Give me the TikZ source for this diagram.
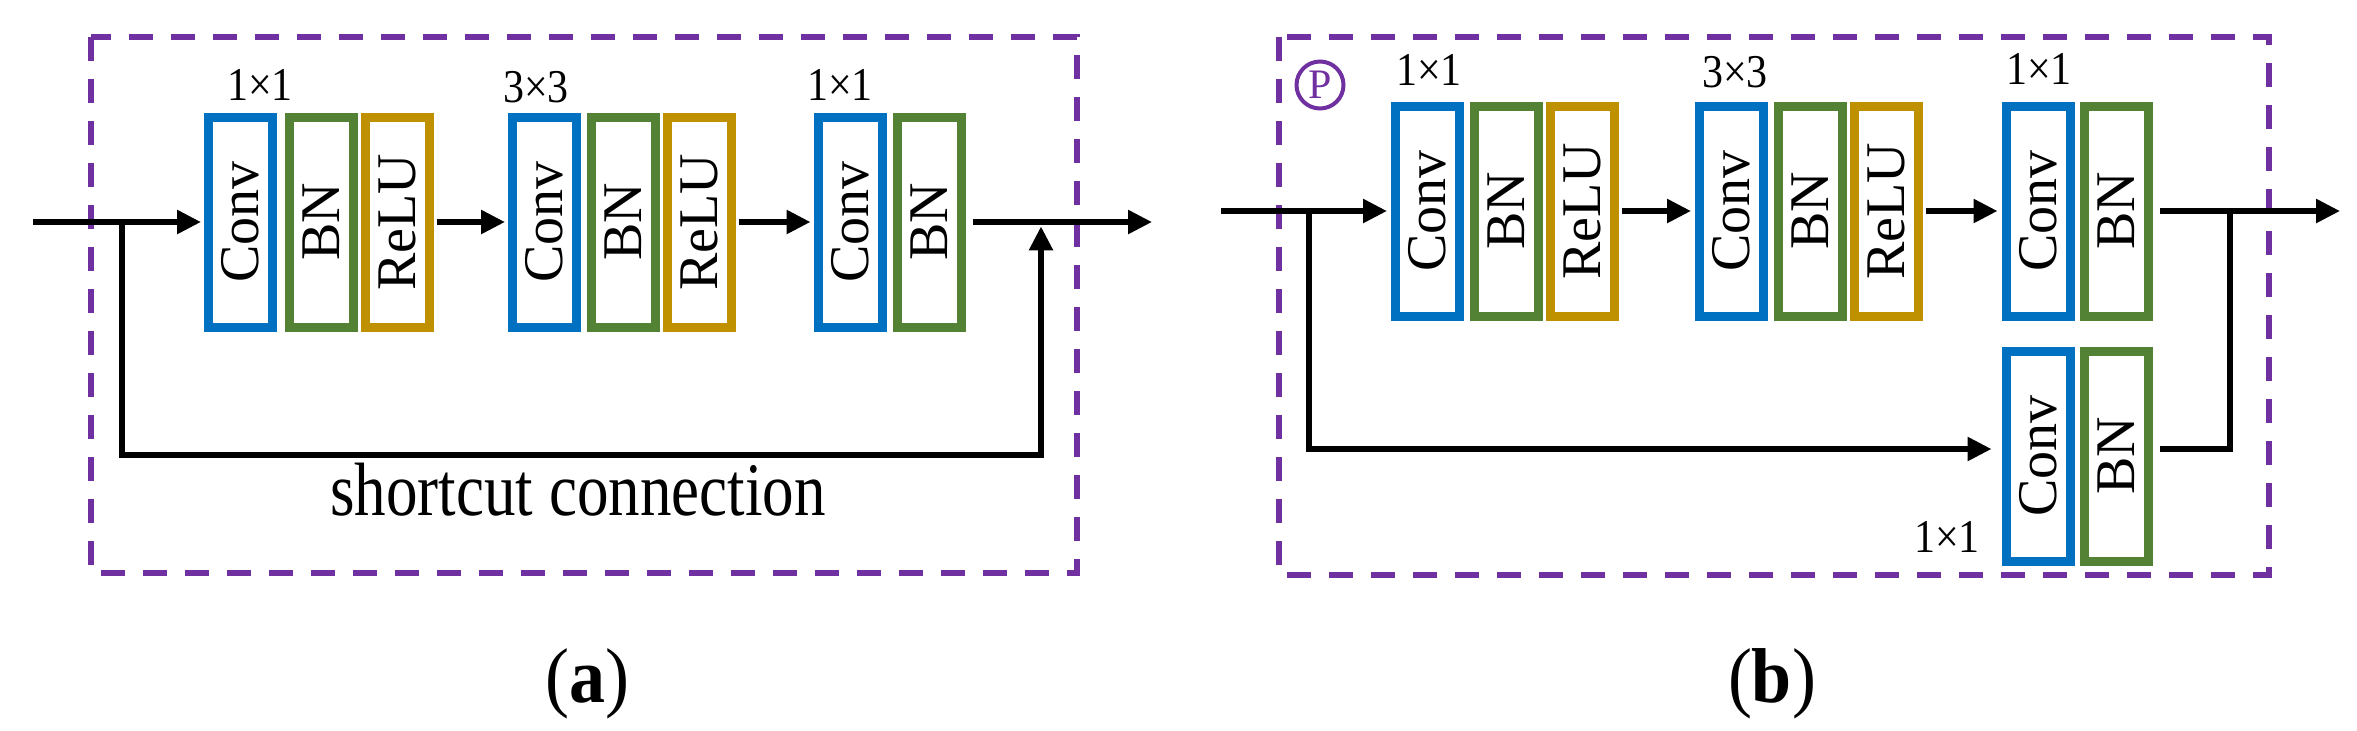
\documentclass[tikz,border=0pt]{standalone}
\usepackage{graphicx}
\usepackage{fontspec}
\setmainfont{Liberation Serif}
\usetikzlibrary{arrows.meta}
\definecolor{cblue}{HTML}{0070C0}
\definecolor{cgreen}{HTML}{548235}
\definecolor{cgold}{HTML}{BF9000}
\definecolor{cpurple}{HTML}{7030A0}
\newcommand\vstretch[2]{\scalebox{1}[#1]{#2}}
\begin{document}
\begin{tikzpicture}[x=0.5pt,y=-0.5pt,
  layer/.style={draw=#1, line width=4.5pt, minimum width=32pt, minimum height=105pt,
    inner sep=0pt, fill=white, font=\fontsize{28}{28}\selectfont},
  wire/.style={line width=2.8pt, line join=miter},
  conn/.style={wire, -{Triangle[length=12pt,width=11.5pt]}},
  dashbox/.style={draw=cpurple, line width=3pt, dash pattern=on 12pt off 9pt},
  klbl/.style={anchor=base, inner sep=0pt, font=\fontsize{21}{21}\selectfont},
  sublbl/.style={anchor=base, inner sep=0pt, font=\fontsize{36}{36}\selectfont}]
\useasboundingbox (0,0) rectangle (2357,730);

% ---------------- panel (a) ----------------
\draw[dashbox] (91,37) rectangle (1077,573);
\node[layer=cblue]  (conv1a) at (240.5,222) {\rotatebox{90}{Conv}};
\node[layer=cgreen] (bn1a)   at (321,222)   {\rotatebox{90}{BN}};
\node[layer=cgold]  (relu1a) at (397,222)   {\rotatebox{90}{ReLU}};
\node[layer=cblue]  (conv2a) at (544.5,222) {\rotatebox{90}{Conv}};
\node[layer=cgreen] (bn2a)   at (623.5,222) {\rotatebox{90}{BN}};
\node[layer=cgold]  (relu2a) at (699,222)   {\rotatebox{90}{ReLU}};
\node[layer=cblue]  (conv3a) at (850,222)   {\rotatebox{90}{Conv}};
\node[layer=cgreen] (bn3a)   at (929,222)   {\rotatebox{90}{BN}};

\node[klbl] (k1a) at (260,100) {\vstretch{1.12}{1×1}};
\node[klbl] (k2a) at (536,102) {\vstretch{1.12}{3×3}};
\node[klbl] (k3a) at (840,100) {\vstretch{1.12}{1×1}};

\coordinate (ina) at (33,222);
\coordinate (bra) at (122,222);
\coordinate (scla) at (122,455);
\coordinate (scra) at (1041,455);
\coordinate (joina) at (1041,222);
\coordinate (outa) at (1152,222);

\draw[conn, shorten >=1.5pt] (ina) -- (ina -| conv1a.west);
\draw[conn, shorten <=1.5pt, shorten >=1.5pt] (relu1a.east) -- (conv2a.west);
\draw[conn, shorten <=1.5pt, shorten >=1.5pt] (relu2a.east) -- (conv3a.west);
\draw[conn, shorten <=3.5pt] (bn3a.east) -- (outa);
\draw[conn, shorten >=2.2pt] (bra) -- (scla) -- (scra) -- (joina);

\node[anchor=base, inner sep=0pt, font=\fontsize{31.5}{31.5}\selectfont] (sca) at (578,515)
  {\vstretch{1.2}{shortcut connection}};
\node[sublbl] (laba) at (587,702) {\vstretch{1.08}{(\textbf{a})}};

% ---------------- panel (b) ----------------
\draw[dashbox] (1279,37) rectangle (2269,575);
\node[circle, draw=cpurple, line width=2pt, minimum size=23.5pt, inner sep=0pt,
      text=cpurple, font=\fontsize{21}{21}\selectfont] (pmark) at (1320,85) {P};

\node[layer=cblue]  (conv1b) at (1427.5,211) {\rotatebox{90}{Conv}};
\node[layer=cgreen] (bn1b)   at (1506,211)   {\rotatebox{90}{BN}};
\node[layer=cgold]  (relu1b) at (1582.5,211) {\rotatebox{90}{ReLU}};
\node[layer=cblue]  (conv2b) at (1731.5,211) {\rotatebox{90}{Conv}};
\node[layer=cgreen] (bn2b)   at (1810,211)   {\rotatebox{90}{BN}};
\node[layer=cgold]  (relu2b) at (1886,211)   {\rotatebox{90}{ReLU}};
\node[layer=cblue]  (conv3b) at (2038,211)   {\rotatebox{90}{Conv}};
\node[layer=cgreen] (bn3b)   at (2116.5,211) {\rotatebox{90}{BN}};
\node[layer=cblue]  (conv4b) at (2038,456)   {\rotatebox{90}{Conv}};
\node[layer=cgreen] (bn4b)   at (2116.5,456) {\rotatebox{90}{BN}};

\node[klbl] (k1b) at (1429,85) {\vstretch{1.12}{1×1}};
\node[klbl] (k2b) at (1735,87) {\vstretch{1.12}{3×3}};
\node[klbl] (k3b) at (2039,84) {\vstretch{1.12}{1×1}};
\node[klbl] (k4b) at (1947,552) {\vstretch{1.12}{1×1}};

\coordinate (inb) at (1221,211);
\coordinate (brb) at (1309,211);
\coordinate (lowb) at (1309,449);
\coordinate (joinb) at (2230,211);
\coordinate (joinlow) at (2230,449);
\coordinate (outb) at (2340,211);

\draw[conn, shorten >=2pt] (inb) -- (inb -| conv1b.west);
\draw[conn, shorten <=1.5pt, shorten >=2pt] (relu1b.east) -- (conv2b.west);
\draw[conn, shorten <=1.5pt, shorten >=2pt] (relu2b.east) -- (conv3b.west);
\draw[conn, shorten <=3.5pt] (bn3b.east) -- (outb);
\draw[conn, shorten >=5pt] (brb) -- (lowb) -- (lowb -| conv4b.west);
\draw[wire, shorten <=3.5pt] (bn4b.east |- joinlow) -- (joinlow) -- (joinb);

\node[sublbl] (labb) at (1772,702) {\vstretch{1.08}{(\textbf{b})}};
\end{tikzpicture}
\end{document}
